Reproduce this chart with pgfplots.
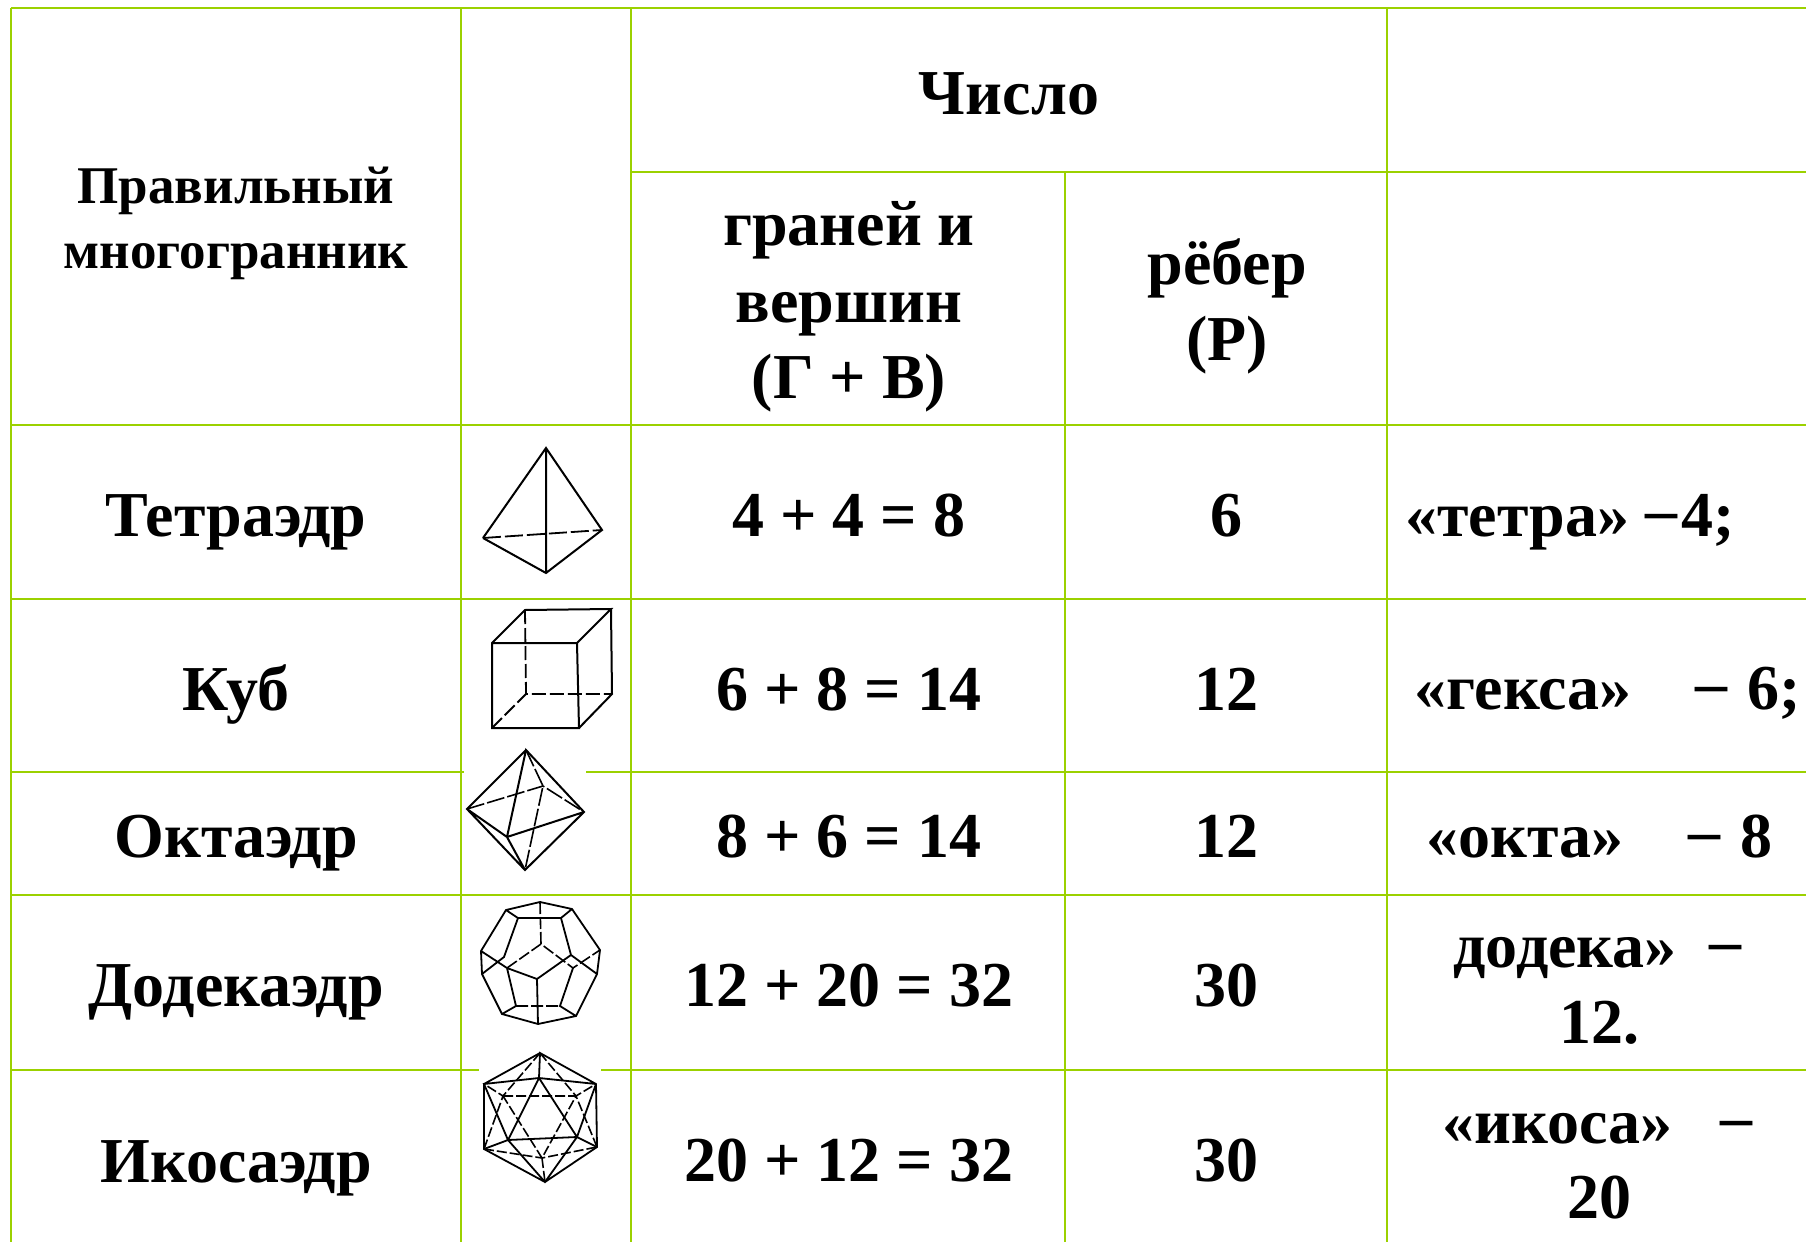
\documentclass[border=0pt]{standalone}
\usepackage{fontspec}
\setmainfont{Liberation Serif}
\usepackage{pgfplots}
\pgfplotsset{compat=1.18}
\definecolor{grn}{HTML}{9BD100}
% text sizes in pt, 1 px of the reference = 0.5 pt
\newcommand{\bg}[1]{{\fontsize{32}{36}\bfseries\selectfont #1}}
\newcommand{\head}[1]{{\fontsize{26.5}{30}\bfseries\selectfont #1}}
\newcommand{\ds}{\raisebox{.07em}{–}\kern.07em}
\begin{document}
\begin{tikzpicture}
\useasboundingbox (0,0) rectangle (903pt,621pt);
\begin{axis}[
    at={(0,0)}, anchor=south west,
    scale only axis, width=903pt, height=621pt,
    xmin=0, xmax=1806, ymin=0, ymax=1242,
    y dir=reverse, hide axis,
    unbounded coords=jump,
    every axis plot/.append style={no marks, forget plot},
]
% table rules
\addplot[grn, line width=1.4pt] coordinates {
    (11,8) (1806,8) (nan,nan)
    (631,172) (1806,172) (nan,nan)
    (11,425) (1806,425) (nan,nan)
    (11,599) (1806,599) (nan,nan)
    (11,772) (464,772) (nan,nan)
    (586,772) (1806,772) (nan,nan)
    (11,895) (1806,895) (nan,nan)
    (11,1070) (479,1070) (nan,nan)
    (601,1070) (1806,1070) (nan,nan)
    (11,8) (11,1242) (nan,nan)
    (461,8) (461,1242) (nan,nan)
    (631,8) (631,1242) (nan,nan)
    (1065,172) (1065,1242) (nan,nan)
    (1387,8) (1387,1242)
};
% tetrahedron
\addplot[black, line width=1pt] coordinates {
    (483,538) (546,448) (602,530) (546,573) (483,538) (nan,nan)
    (546,448) (546,573)
};
\addplot[black, line width=0.9pt, dash pattern=on 9pt off 2pt] coordinates {(483,538) (602,530)};
% cube
\addplot[black, line width=1pt] coordinates {
    (492,643) (577,643) (579,728) (492,728) (492,643) (525,610) (611,609) (577,643) (nan,nan)
    (611,609) (612,694) (579,728)
};
\addplot[black, line width=0.9pt, dash pattern=on 7pt off 2pt] coordinates {
    (525,610) (526,694) (nan,nan)
    (492,728) (526,694) (612,694)
};
% octahedron
\addplot[black, line width=1pt] coordinates {
    (526,750) (467,809) (525,870) (584,812) (526,750) (507,837) (467,809) (nan,nan)
    (507,837) (584,812) (nan,nan)
    (507,837) (525,870)
};
\addplot[black, line width=0.8pt, dash pattern=on 9pt off 1.5pt] coordinates {
    (526,750) (543,786) (525,870) (nan,nan)
    (467,809) (543,786) (584,812)
};
% dodecahedron
\addplot[black, line width=0.9pt] coordinates {
    (540,902) (572,909) (600,950) (597,974) (576,1016) (538,1024) (502,1014) (482,974) (481,951) (506,910) (540,902) (nan,nan)
    (506,910) (518,918) (561,918) (572,909) (nan,nan)
    (518,918) (504,957) (482,974) (nan,nan)
    (561,918) (571,955) (597,974) (nan,nan)
    (481,951) (507,968) (537,979) (571,955) (nan,nan)
    (537,979) (538,1024) (nan,nan)
    (507,968) (516,1006) (502,1014) (nan,nan)
    (573,968) (560,1006) (576,1016)
};
\addplot[black, line width=0.8pt, dash pattern=on 6pt off 1.5pt] coordinates {
    (540,902) (541,944) (nan,nan)
    (507,968) (541,944) (573,968) (600,950) (nan,nan)
    (516,1006) (560,1006)
};
% icosahedron
\addplot[black, line width=0.9pt] coordinates {
    (540,1053) (484,1084) (484,1149) (545,1182) (597,1147) (596,1084) (540,1053) (539,1078) (484,1084) (508,1140) (484,1149) (nan,nan)
    (596,1084) (539,1078) (508,1140) (577,1137) (539,1078) (nan,nan)
    (596,1084) (577,1137) (597,1147) (nan,nan)
    (508,1140) (545,1182) (577,1137)
};
\addplot[black, line width=0.8pt, dash pattern=on 5pt off 1.5pt] coordinates {
    (503,1096) (576,1096) (542,1158) (503,1096) (nan,nan)
    (540,1053) (503,1096) (484,1084) (nan,nan)
    (540,1053) (576,1096) (596,1084) (nan,nan)
    (484,1149) (542,1158) (597,1147) (nan,nan)
    (542,1158) (545,1182) (nan,nan)
    (484,1149) (503,1096) (nan,nan)
    (597,1147) (576,1096)
};
% header
\node[anchor=base] at (axis cs:1009,114) {\bg{Число}};
\node[anchor=base] at (axis cs:236,203) {\head{Правильный}};
\node[anchor=base] at (axis cs:236,268) {\head{многогранник}};
\node[anchor=base] at (axis cs:849,245) {\bg{граней и}};
\node[anchor=base] at (axis cs:849,322) {\bg{вершин}};
\node[anchor=base] at (axis cs:849,398) {\bg{(Г + В)}};
\node[anchor=base] at (axis cs:1227,284) {\bg{рёбер}};
\node[anchor=base] at (axis cs:1227,360) {\bg{(Р)}};
% names
\node[anchor=base] at (axis cs:236,536) {\bg{Тетраэдр}};
\node[anchor=base] at (axis cs:236,710) {\bg{Куб}};
\node[anchor=base] at (axis cs:236,857) {\bg{Октаэдр}};
\node[anchor=base] at (axis cs:236,1006) {\bg{Додекаэдр}};
\node[anchor=base] at (axis cs:236,1182) {\bg{Икосаэдр}};
% sums
\node[anchor=base] at (axis cs:849,536) {\bg{4 + 4 = 8}};
\node[anchor=base] at (axis cs:849,710) {\bg{6 + 8 = 14}};
\node[anchor=base] at (axis cs:849,857) {\bg{8 + 6 = 14}};
\node[anchor=base] at (axis cs:849,1006) {\bg{12 + 20 = 32}};
\node[anchor=base] at (axis cs:849,1181) {\bg{20 + 12 = 32}};
% edges
\node[anchor=base] at (axis cs:1226.5,536) {\bg{6}};
\node[anchor=base] at (axis cs:1226.5,710) {\bg{12}};
\node[anchor=base] at (axis cs:1226.5,857) {\bg{12}};
\node[anchor=base] at (axis cs:1226.5,1006) {\bg{30}};
\node[anchor=base] at (axis cs:1226.5,1181) {\bg{30}};
% right column
\node[anchor=base west, inner sep=0pt] at (axis cs:1405,536) {\bg{«тетра» \ds 4;}};
\node[anchor=base west, inner sep=0pt] at (axis cs:1414,709) {\bg{«гекса»}};
\node[anchor=base west, inner sep=0pt] at (axis cs:1695,709) {\bg{\ds\ 6;}};
\node[anchor=base west, inner sep=0pt] at (axis cs:1426,857) {\bg{«окта»}};
\node[anchor=base west, inner sep=0pt] at (axis cs:1688,857) {\bg{\ds\ 8}};
\node[anchor=base west, inner sep=0pt] at (axis cs:1453,967) {\bg{додека»}};
\node[anchor=base west, inner sep=0pt] at (axis cs:1709,967) {\bg{\ds}};
\node[anchor=base] at (axis cs:1599,1043) {\bg{12.}};
\node[anchor=base west, inner sep=0pt] at (axis cs:1442,1143) {\bg{«икоса»}};
\node[anchor=base west, inner sep=0pt] at (axis cs:1720,1143) {\bg{\ds}};
\node[anchor=base] at (axis cs:1599,1218) {\bg{20}};
\end{axis}
\end{tikzpicture}
\end{document}
